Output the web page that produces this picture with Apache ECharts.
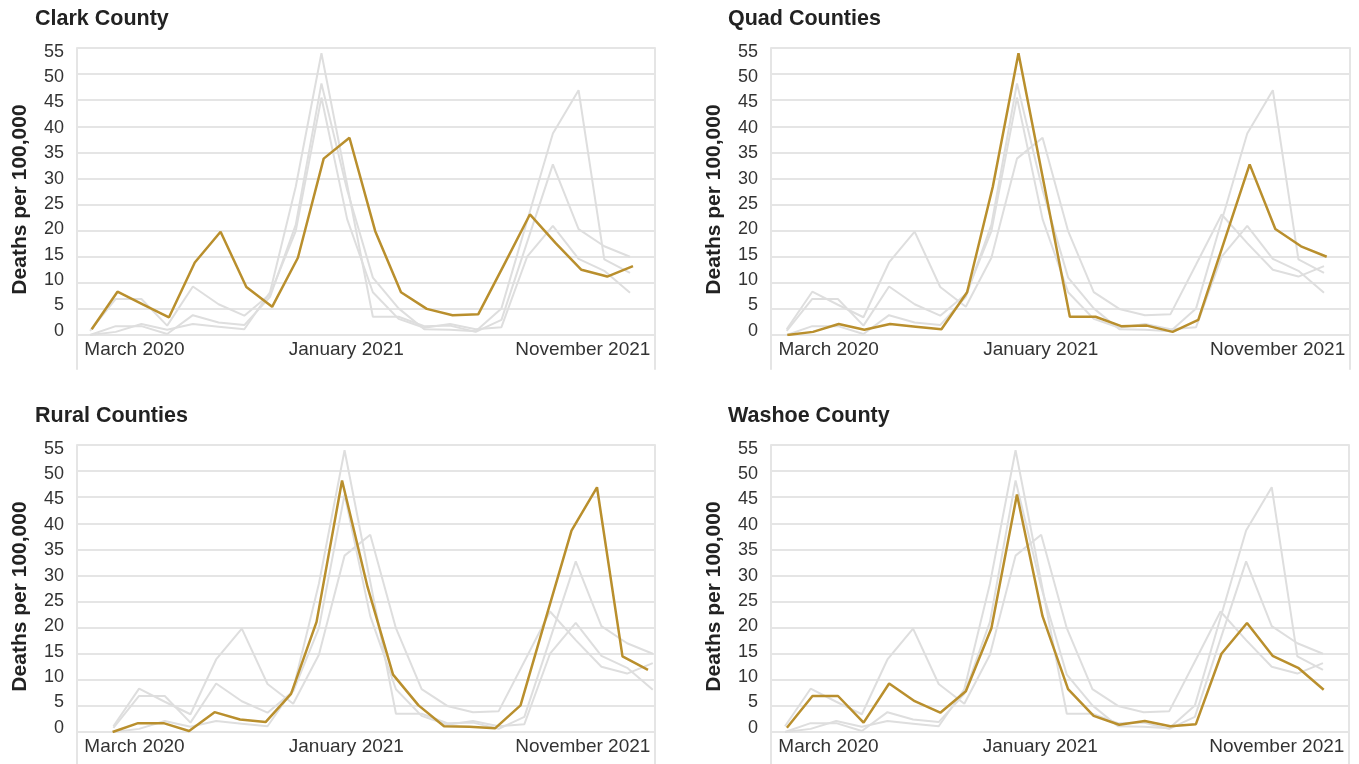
<!DOCTYPE html>
<html>
<head>
<meta charset="utf-8">
<script src="https://cdn.jsdelivr.net/npm/echarts@6/dist/echarts.min.js"></script>
<style>
  html, body { margin: 0; padding: 0; background: #ffffff; }
  #chart { width: 1359px; height: 764px; }
</style>
</head>
<body>
<div id="chart"></div>
<script>
// ---- Data (monthly COVID-19 deaths per 100,000, March 2020 - December 2021) ----
const months = ['Mar 2020','Apr 2020','May 2020','Jun 2020','Jul 2020','Aug 2020','Sep 2020','Oct 2020','Nov 2020','Dec 2020',
                'Jan 2021','Feb 2021','Mar 2021','Apr 2021','May 2021','Jun 2021','Jul 2021','Aug 2021','Sep 2021','Oct 2021','Nov 2021','Dec 2021'];
const clark  = [1.1, 8.3, 5.8, 3.4, 13.9, 19.8, 9.2, 5.4, 14.8, 33.8, 37.8, 19.9, 8.2, 5.0, 3.8, 4.0, 13.5, 23.1, 17.6, 12.5, 11.2, 13.2];
const quad   = [0.0, 0.6, 2.1, 1.0, 2.1, 1.6, 1.1, 8.2, 28.4, 54.0, 28.8, 3.5, 3.5, 1.7, 1.8, 0.6, 2.9, 17.8, 32.7, 20.3, 17.0, 15.0];
const rural  = [0.0, 1.7, 1.7, 0.2, 3.8, 2.4, 1.9, 7.3, 21.1, 48.2, 27.8, 11.0, 5.1, 1.1, 1.0, 0.7, 5.1, 21.9, 38.6, 46.9, 14.5, 11.9];
const washoe = [0.8, 6.9, 6.9, 1.8, 9.3, 5.9, 3.7, 7.8, 19.9, 45.5, 22.2, 8.2, 3.1, 1.4, 2.1, 1.1, 1.5, 15.0, 20.9, 14.6, 12.3, 8.1];
const regionNames = ['Clark County', 'Quad Counties', 'Rural Counties', 'Washoe County'];
const xTickLabels = ['March 2020', 'January 2021', 'November 2021'];
const yTicks = [0, 5, 10, 15, 20, 25, 30, 35, 40, 45, 50, 55];
const yTitle = 'Deaths per 100,000';

// ---- Layout (positions/styles only) ----
const regionData = [clark, quad, rural, washoe];
const layout = [
  { left: 77,  top: 48,  width: 578, height: 287, frameH: 321, titleX: 30,  titleY: 3,   gold: [-0.570, 21.854], gray: [-0.506, 21.972] },
  { left: 771, top: 48,  width: 579, height: 287, frameH: 321, titleX: 723, titleY: 3,   gold: [-0.635, 21.907], gray: [-0.614, 22.016] },
  { left: 77,  top: 445, width: 578, height: 287, frameH: 319, titleX: 30,  titleY: 400, gold: [-1.396, 21.275], gray: [-1.417, 21.086] },
  { left: 771, top: 445, width: 578, height: 287, frameH: 319, titleX: 723, titleY: 400, gold: [-0.622, 21.990], gray: [-0.546, 22.016] }
];
const xLabelPos = [0.0995, 0.466, 0.875];   // fraction of plot width
const yLabelRange = [-0.83, 55.73];
const GOLD = '#b98f2d';
const GRAYLINE = '#dedede';
const GRID = '#e5e5e5';
const FONT = '"Liberation Sans", Arial, Helvetica, sans-serif';

const grids = [], xAxes = [], yAxes = [], series = [], titles = [];

layout.forEach((L, p) => {
  const mainGrid = grids.length;
  grids.push({ left: L.left, top: L.top, width: L.width, height: L.height, containLabel: false, outerBoundsMode: 'none' });
  const frameGrid = grids.length;
  grids.push({ left: L.left, top: L.top, width: L.width, height: L.frameH, containLabel: false, outerBoundsMode: 'none' });

  titles.push({
    text: regionNames[p], left: L.titleX, top: L.titleY,
    textStyle: { fontFamily: FONT, fontSize: 21.5, fontWeight: 'bold', color: '#222' }
  });

  const goldX = xAxes.length;
  xAxes.push({ gridIndex: mainGrid, type: 'value', position: 'bottom', show: false, min: L.gold[0], max: L.gold[1] });
  const grayX = xAxes.length;
  xAxes.push({ gridIndex: mainGrid, type: 'value', position: 'bottom', show: false, min: L.gray[0], max: L.gray[1] });
  xAxes.push({
    gridIndex: mainGrid, type: 'value', position: 'bottom', min: 0, max: 1,
    axisLine: { show: false }, axisTick: { show: false }, splitLine: { show: false },
    axisLabel: {
      customValues: xLabelPos, margin: 5, fontFamily: FONT, fontSize: 19, color: '#333', lineHeight: 19,
      formatter: (v) => {
        let best = 0;
        xLabelPos.forEach((q, i) => { if (Math.abs(q - v) < Math.abs(xLabelPos[best] - v)) best = i; });
        return xTickLabels[best];
      }
    }
  });
  xAxes.push({ gridIndex: frameGrid, type: 'value', show: false, min: 0, max: 1 });

  const mainY = yAxes.length;
  yAxes.push({
    gridIndex: mainGrid, type: 'value', position: 'left', min: 0, max: 55, interval: 5,
    axisLine: { show: false }, axisTick: { show: false }, axisLabel: { show: false },
    splitLine: { show: true, lineStyle: { color: GRID, width: 2 } },
    name: yTitle, nameLocation: 'middle', nameGap: 46,
    nameTextStyle: { fontFamily: FONT, fontSize: 21, fontWeight: 'bold', color: '#222', padding: [0, 16, 0, 0] }
  });
  yAxes.push({
    gridIndex: mainGrid, type: 'value', position: 'left', min: yLabelRange[0], max: yLabelRange[1],
    axisLine: { show: false }, axisTick: { show: false }, splitLine: { show: false },
    axisLabel: { customValues: yTicks, margin: 13, fontFamily: FONT, fontSize: 18, color: '#333', align: 'right' }
  });
  yAxes.push({
    gridIndex: frameGrid, type: 'value', position: 'left', min: 0, max: 1,
    axisLine: { show: true, lineStyle: { color: GRID, width: 2 } },
    axisTick: { show: false }, axisLabel: { show: false }, splitLine: { show: false }
  });
  yAxes.push({
    gridIndex: frameGrid, type: 'value', position: 'right', min: 0, max: 1,
    axisLine: { show: true, lineStyle: { color: GRID, width: 2 } },
    axisTick: { show: false }, axisLabel: { show: false }, splitLine: { show: false }
  });

  regionData.forEach((vals, r) => {
    if (r === p) return;
    series.push({
      type: 'line', name: regionNames[r], xAxisIndex: grayX, yAxisIndex: mainY,
      data: vals.map((v, i) => [months.indexOf(months[i]), v]),
      showSymbol: false, symbol: 'none', silent: true,
      lineStyle: { color: GRAYLINE, width: 2 }, z: 2
    });
  });
  series.push({
    type: 'line', name: regionNames[p], xAxisIndex: goldX, yAxisIndex: mainY,
    data: regionData[p].map((v, i) => [months.indexOf(months[i]), v]),
    showSymbol: false, symbol: 'none',
    lineStyle: { color: GOLD, width: 2.5 }, z: 5
  });
});

const chart = echarts.init(document.getElementById('chart'), null, { renderer: 'canvas' });
chart.setOption({
  animation: false,
  backgroundColor: '#ffffff',
  title: titles,
  grid: grids,
  xAxis: xAxes,
  yAxis: yAxes,
  series: series
});
</script>
</body>
</html>
